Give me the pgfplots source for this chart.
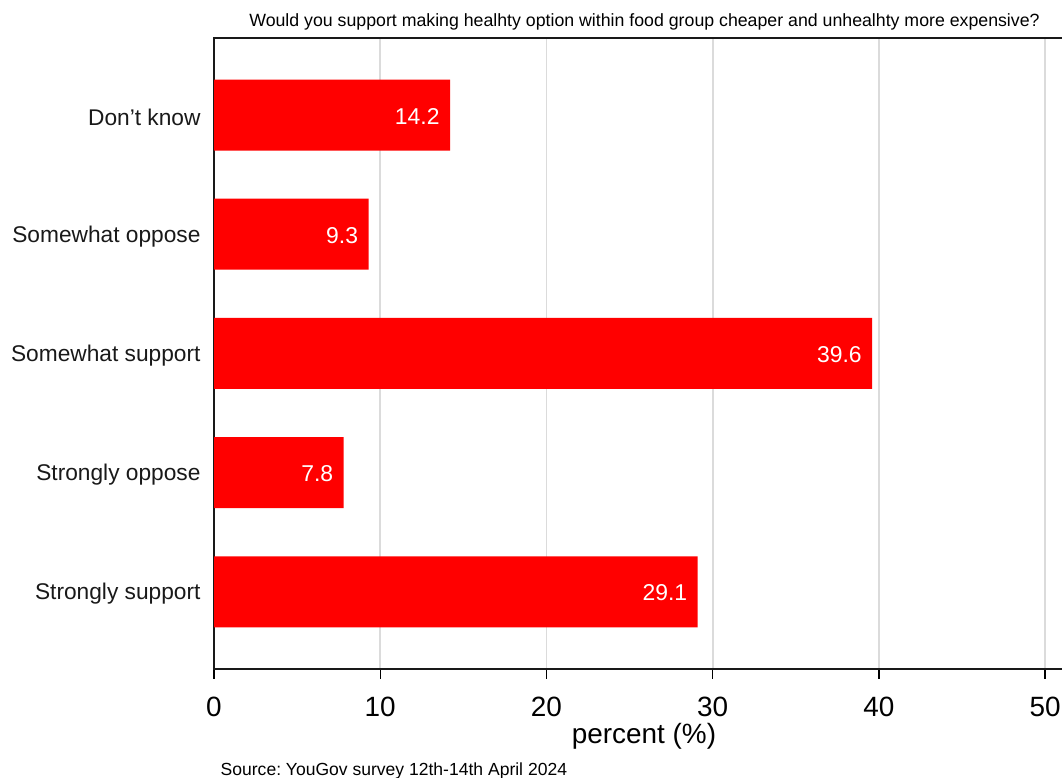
\documentclass[border=0pt]{standalone}
\usepackage{pgfplots}
\pgfplotsset{compat=1.18}
\usepackage{fontspec}
\setmainfont{Liberation Sans}
\frenchspacing
\begin{document}
\begin{tikzpicture}[x=1bp,y=1bp]
\useasboundingbox (0,0) rectangle (1062,778);
\begin{axis}[
  at={(214bp,109bp)}, anchor=south west,
  scale only axis, width=864.3bp, height=631bp,
  xbar, bar width=71bp,
  xmin=0, xmax=52, ymin=0.354, ymax=5.646,
  /pgf/number format/assume math mode=true,
  axis line style={black!90, line width=1.6bp},
  xtick={0,10,...,50},
  xtick pos=lower, tick align=outside,
  major tick length=10bp,
  tick style={black, line width=1.4bp},
  ytick={1,2,3,4,5},
  yticklabels={Strongly support, Strongly oppose, Somewhat support, Somewhat oppose, Don’t know},
  ytick style={draw=none},
  xmajorgrids, grid style={black!14, line width=1.8bp},
  yticklabel style={font=\fontsize{22.8}{26}\selectfont, text=black!90, yshift=-2bp},
  xticklabel style={font=\fontsize{28}{32}\selectfont, yshift=-14.5bp},
  xlabel={percent (\%)},
  xlabel style={font=\fontsize{28}{32}\selectfont, at={(axis description cs:0.4975,0)}, anchor=center, yshift=-67.5bp},
  point meta=x,
  nodes near coords={\pgfmathprintnumber[fixed, precision=1, fixed zerofill]{\pgfplotspointmeta}},
  nodes near coords style={anchor=east, text=white, font=\fontsize{23}{26}\selectfont, xshift=-7bp, yshift=-1bp},
]
\addplot[fill=red, draw=none] coordinates {(29.1,1) (7.8,2) (39.6,3) (9.3,4) (14.2,5)};
\end{axis}
\node[font=\fontsize{17.8}{20}\selectfont, anchor=base, inner sep=0] at (644.5,751) {Would you support making healhty option within food group cheaper and unhealhty more expensive?};
\node[font=\fontsize{17.6}{20}\selectfont, anchor=base west, inner sep=0] at (220.5,2.7) {Source: YouGov survey 12th-14th April 2024};
\end{tikzpicture}
\end{document}
